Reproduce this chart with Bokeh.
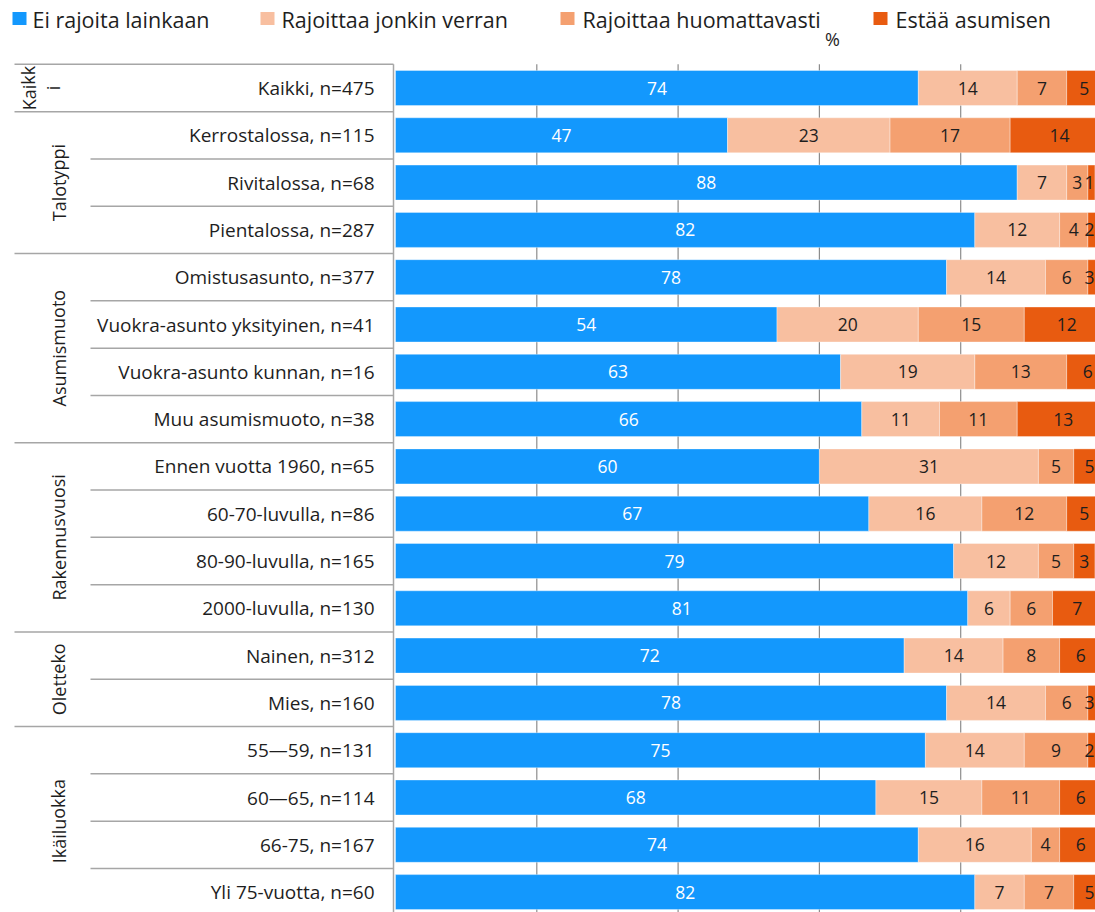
from bokeh.plotting import figure
from bokeh.models import ColumnDataSource, Range1d
from bokeh.core.properties import value
from bokeh.embed import file_html
from bokeh.resources import INLINE

# ---------------- data ----------------
categories = [
    "Kaikki, n=475",
    "Kerrostalossa, n=115", "Rivitalossa, n=68", "Pientalossa, n=287",
    "Omistusasunto, n=377", "Vuokra-asunto yksityinen, n=41",
    "Vuokra-asunto kunnan, n=16", "Muu asumismuoto, n=38",
    "Ennen vuotta 1960, n=65", "60-70-luvulla, n=86",
    "80-90-luvulla, n=165", "2000-luvulla, n=130",
    "Nainen, n=312", "Mies, n=160",
    "55\u201459, n=131", "60\u201465, n=114", "66-75, n=167", "Yli 75-vuotta, n=60",
]
group_names = ["Kaikki", "Talotyppi", "Asumismuoto", "Rakennusvuosi", "Oletteko", "Ikäiluokka"]
group_sizes = [1, 3, 4, 4, 2, 4]

ei_rajoita = [74, 47, 88, 82, 78, 54, 63, 66, 60, 67, 79, 81, 72, 78, 75, 68, 74, 82]
jonkin_verran = [14, 23, 7, 12, 14, 20, 19, 11, 31, 16, 12, 6, 14, 14, 14, 15, 16, 7]
huomattavasti = [7, 17, 3, 4, 6, 15, 13, 11, 5, 12, 5, 6, 8, 6, 9, 11, 4, 7]
estaa = [5, 14, 1, 2, 3, 12, 6, 13, 5, 5, 3, 7, 6, 3, 2, 6, 6, 5]

series_labels = ["Ei rajoita lainkaan", "Rajoittaa jonkin verran",
                 "Rajoittaa huomattavasti", "Estää asumisen"]
x_ticks = [0, 20, 40, 60, 80, 100]
x_title = "%"

# ---------------- styling / layout ----------------
colors = ["#1398FD", "#F8BFA0", "#F4A070", "#E85B10"]
FONT = "Open Sans"
W, H = 1095, 912
PX_PER_PCT = 7.065      # pixels per percent
X0_PX = 395             # x pixel of 0 %
ROW_PX = 47.3           # pixels per row
ROW0_PX = 87.5          # y pixel of first row centre

x_start = -X0_PX / PX_PER_PCT
x_end = (W - X0_PX) / PX_PER_PCT
y_top = -ROW0_PX / ROW_PX
y_bot = (H - ROW0_PX) / ROW_PX


def px2x(px):
    return (px - X0_PX) / PX_PER_PCT


def px2y(py):
    return (py - ROW0_PX) / ROW_PX


p = figure(width=W, height=H, x_range=Range1d(x_start, x_end),
           y_range=Range1d(y_bot, y_top), output_backend="svg",
           toolbar_location=None, min_border=0, title=None,
           x_axis_location=None, y_axis_location=None,
           outline_line_color=None, background_fill_color="white",
           border_fill_color="white")
p.grid.visible = False

n = len(categories)
rows = list(range(n))

# grid lines (vertical) inside the bar area
grid_x = [t for t in x_ticks if 0 < t < 100]
p.segment(x0=grid_x, x1=grid_x, y0=[-0.5] * len(grid_x), y1=[y_bot] * len(grid_x),
          line_color="#8C8C8C", line_width=1.2)

# stacked bars
src = ColumnDataSource(dict(y=rows, s0=ei_rajoita, s1=jonkin_verran,
                            s2=huomattavasti, s3=estaa))
p.hbar_stack(["s0", "s1", "s2", "s3"], y="y", height=0.74, color=colors,
             source=src, line_color="white", line_width=0.6, line_alpha=0.6)

# value labels (kept inside the visible area at the right edge)
series = [ei_rajoita, jonkin_verran, huomattavasti, estaa]
x_max_label = px2x(W - 6)
lx, ly, lt, lc = [], [], [], []
for i in rows:
    left = 0
    for k, s in enumerate(series):
        v = s[i]
        lx.append(min(left + v / 2, x_max_label))
        ly.append(i)
        lt.append(str(v))
        lc.append("white" if k == 0 else "#1E1E1E")
        left += v
p.text(x=lx, y=ly, text=lt, text_color=lc, text_align="center",
       text_baseline="middle", text_font=value(FONT), text_font_size="17.5px")

# left table: category labels
p.text(x=[px2x(374)] * n, y=rows, text=categories, text_align="right",
       text_baseline="middle", text_font=value(FONT), text_font_size="19px",
       text_color="#1E1E1E")

# table lines
xl_group, xl_row, xr = px2x(14), px2x(90), px2x(393)
hx0, hx1, hy = [xl_group], [xr], [-0.5]
starts = []
acc = 0
for g in group_sizes:
    starts.append(acc)
    acc += g
group_bounds = set(s - 0.5 for s in starts[1:])
for b in range(n - 1):
    yb = b + 0.5
    hx0.append(xl_group if yb in group_bounds else xl_row)
    hx1.append(xr)
    hy.append(yb)
p.segment(x0=hx0, x1=hx1, y0=hy, y1=hy, line_color="#A6A6A6", line_width=1.5)
p.segment(x0=[xr], x1=[xr], y0=[-0.5], y1=[y_bot], line_color="#A6A6A6", line_width=1.5)

# group labels (rotated)
gx, gy, gt = [], [], []
for name, s, g in zip(group_names, starts, group_sizes):
    if g == 1:
        continue
    gx.append(px2x(58))
    gy.append(s + (g - 1) / 2)
    gt.append(name)
p.text(x=gx, y=gy, text=gt, angle=1.5708, text_align="center",
       text_baseline="middle", text_font=value(FONT), text_font_size="18px",
       text_color="#1E1E1E")
# first group name wraps in the narrow cell
p.text(x=[px2x(28), px2x(52)], y=[0, 0], text=["Kaikk", "i"], angle=1.5708,
       text_align="center", text_baseline="middle", text_font=value(FONT),
       text_font_size="18px", text_color="#1E1E1E")

# axis title
p.text(x=[px2x(832)], y=[px2y(38)], text=[x_title], text_align="center",
       text_baseline="middle", text_font=value(FONT), text_font_size="18px",
       text_color="#1E1E1E")

# legend
sq_px = [19, 267, 567, 880]
tx_px = [32, 281, 582, 895]
p.rect(x=[px2x(v) for v in sq_px], y=[px2y(18)] * 4, width=14, height=13,
       width_units="screen", height_units="screen", color=colors, line_color=None)
p.text(x=[px2x(v) for v in tx_px], y=[px2y(19)] * 4, text=series_labels,
       text_align="left", text_baseline="middle", text_font=value(FONT),
       text_font_size="21.5px", text_color="#1E1E1E")

open("out.html", "w").write(file_html(p, INLINE))
